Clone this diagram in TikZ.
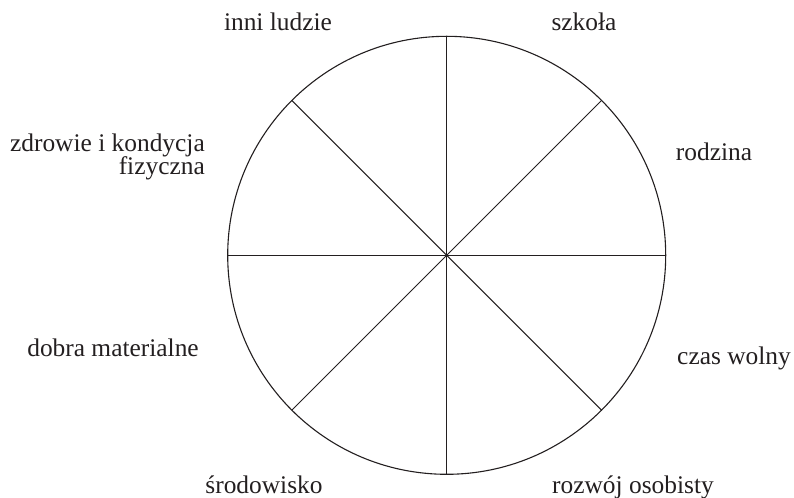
\documentclass[tikz,border=0pt]{standalone}
\usepackage{fontspec}
\usetikzlibrary{calc}
\setmainfont{Liberation Serif}
\definecolor{ink}{HTML}{231F20}
\begin{document}
\begin{tikzpicture}[x=1bp,y=-1bp,
  wheel/.style={draw=ink,line width=1.1bp},
  spoke/.style={draw=ink,line width=1bp},
  lbl/.style={text=ink,inner sep=0pt,font=\fontsize{25.5}{23}\selectfont}]
\useasboundingbox (0,0) rectangle (794,498);
\coordinate (c) at (446.7,255.3);
\draw[wheel] (c) circle[radius=219bp];
\foreach \a/\n in {0/e,45/ne,90/n,135/nw,180/w,225/sw,270/s,315/se}{
  \coordinate (p\n) at ($(c)+(\a:219bp)$);
}
\draw[spoke] (pn) -- (ps);
\draw[spoke] (pe) -- (pw);
\draw[spoke] (pne) -- (psw);
\draw[spoke] (pnw) -- (pse);
\node[lbl,anchor=base] (t1) at (278,31) {inni ludzie};
\node[lbl,anchor=base] (t2) at (584,31) {szkoła};
\node[lbl,anchor=base] (t3) at (714,161) {rodzina};
\node[lbl,anchor=base east] (t4a) at (205,152) {zdrowie i kondycja};
\node[lbl,anchor=base east] (t4b) at (205,175) {fizyczna};
\node[lbl,anchor=base] (t5) at (113,356) {dobra materialne};
\node[lbl,anchor=base] (t6) at (734,364) {czas wolny};
\node[lbl,anchor=base] (t7) at (264,493) {środowisko};
\node[lbl,anchor=base] (t8) at (633,493) {rozwój osobisty};
\end{tikzpicture}
\end{document}
